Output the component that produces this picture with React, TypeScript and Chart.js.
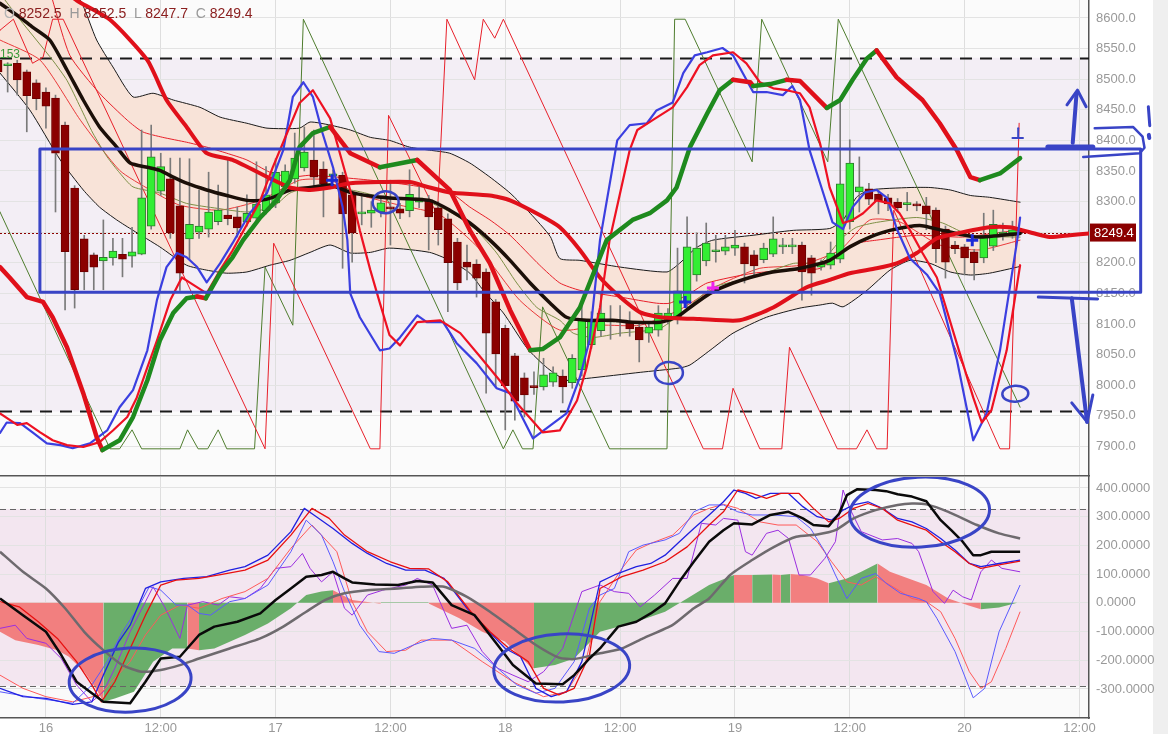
import React, { useEffect, useRef } from 'react';
import { Chart, registerables } from 'chart.js';

Chart.register(...registerables);

const FONT = "'Liberation Sans', Arial, sans-serif";

// ---------- time axis (hours from the 16th 00:00) ----------
const timeMin = -4.8;
const timeMax = 109.0;
const timeTicks = [0, 12, 24, 36, 48, 60, 72, 84, 96, 108];
const firstDay = 16;

// ---------- price panel ----------
const priceMin = 7851.6;
const priceMax = 8629.4;
const priceTicks = [7900, 7950, 8000, 8050, 8100, 8150, 8200, 8250, 8300, 8350, 8400, 8450, 8500, 8550, 8600];
const priceZoneTop = 8535;
const priceZoneBottom = 7957;
const lastPrice = 8249.4;

const candleStartHour = -5;
const candleOpen = [
  8531, 8522, 8526, 8512, 8494,
  8479, 8469, 8425, 8322, 8239, 8213, 8203, 8208, 8214, 8211,
  8214, 8260, 8317, 8337, 8293, 8239, 8250, 8255, 8267, 8278,
  8275, 8267, 8273, 8285, 8298, 8324, 8337, 8355, 8368, 8353,
  8342, 8343, 8311, 8280, 8281, 8283, 8291, 8288, 8285, 8299,
  8303, 8290, 8272, 8234, 8201, 8198, 8185, 8136, 8093, 8048,
  8012, 7998, 7997, 8005, 8015, 8004, 8025, 8066, 8089, 8103,
  8103, 8103, 8095, 8085, 8090, 8105, 8111, 8134, 8180, 8203,
  8218, 8219, 8224, 8226, 8213, 8205, 8214, 8226, 8226, 8229,
  8208, 8193, 8196, 8206, 8267, 8316, 8321, 8312, 8306, 8299,
  8295, 8296, 8293, 8286, 8255, 8229, 8226, 8218, 8208, 8227,
  8247, 8249, 8252.5,
];
const candleHigh = [
  8540, 8527, 8531, 8515, 8499,
  8486, 8474, 8430, 8326, 8245, 8216, 8270, 8240, 8240, 8258,
  8417, 8425, 8379, 8371, 8371, 8370, 8319, 8348, 8327, 8371,
  8291, 8311, 8365, 8357, 8370, 8360, 8412, 8422, 8417, 8365,
  8352, 8348, 8318, 8311, 8300, 8305, 8335, 8297, 8352, 8327,
  8310, 8300, 8280, 8240, 8229, 8205, 8190, 8140, 8098, 8052,
  8020, 8022, 8044, 8030, 8025, 8050, 8140, 8120, 8150, 8130,
  8130, 8120, 8100, 8100, 8130, 8125, 8224, 8275, 8249, 8265,
  8245, 8245, 8253, 8232, 8220, 8232, 8275, 8240, 8240, 8234,
  8212, 8205, 8234, 8466, 8401, 8373, 8330, 8318, 8312, 8305,
  8315, 8300, 8307, 8290, 8260, 8235, 8230, 8222, 8281, 8286,
  8265, 8268, 8252.5,
];
const candleLow = [
  8490, 8479, 8474, 8414, 8450,
  8420, 8283, 8123, 8126, 8156, 8156, 8156, 8196, 8177, 8193,
  8213, 8255, 8310, 8240, 8155, 8205, 8240, 8242, 8262, 8262,
  8242, 8260, 8268, 8280, 8290, 8315, 8330, 8350, 8320, 8275,
  8338, 8191, 8201, 8262, 8258, 8275, 8229, 8272, 8275, 8290,
  8221, 8229, 8120, 8156, 8172, 8144, 7987, 7997, 7927, 7943,
  7948, 7985, 7992, 7998, 7971, 7995, 8015, 8060, 8080, 8075,
  8080, 8080, 8038, 8070, 8080, 8100, 8100, 8125, 8170, 8195,
  8201, 8213, 8212, 8167, 8180, 8200, 8210, 8215, 8215, 8139,
  8147, 8188, 8190, 8200, 8255, 8283, 8295, 8280, 8285, 8283,
  8285, 8285, 8254, 8200, 8175, 8215, 8180, 8172, 8200, 8220,
  8237, 8240, 8247.7,
];
const candleClose = [
  8512, 8524, 8499, 8473, 8468,
  8456, 8379, 8218, 8156, 8185, 8193, 8209, 8219, 8206, 8218,
  8306, 8373, 8357, 8249, 8183, 8263, 8260, 8283, 8286, 8272,
  8257, 8281, 8296, 8311, 8348, 8350, 8371, 8381, 8340, 8329,
  8345, 8280, 8249, 8281, 8286, 8298, 8288, 8281, 8312, 8306,
  8275, 8254, 8200, 8167, 8193, 8175, 8085, 8051, 7999, 7974,
  7984, 7996, 8017, 8020, 7997, 8044, 8107, 8108, 8118, 8104,
  8104, 8092, 8074, 8095, 8118, 8118, 8154, 8226, 8224, 8232,
  8221, 8226, 8229, 8198, 8195, 8224, 8239, 8228, 8228, 8185,
  8183, 8198, 8216, 8329, 8363, 8324, 8304, 8301, 8296, 8290,
  8297, 8293, 8280, 8223, 8201, 8223, 8208, 8200, 8245, 8263,
  8250, 8254, 8249.4,
];

const bbUpper = [[-4.8,8760],[1.5,8662],[3.6,8629],[5.3,8564],[7,8520],[9.1,8471],[11.2,8477],[13.3,8466],[16.1,8454],[18.2,8438],[21,8428],[23.1,8420],[26.5,8420],[27.6,8430],[29.7,8425],[31.8,8417],[33.9,8405],[35.9,8400],[38,8389],[40.1,8384],[42.2,8379],[44.3,8363],[46.4,8340],[48.5,8314],[50.6,8281],[52.7,8243],[53.7,8207],[55.8,8204],[60,8193],[64.9,8185],[66.2,8199],[68,8225],[69.7,8237],[73.9,8245],[78.1,8253],[81.9,8256],[83.3,8270],[84.7,8307],[86.1,8319],[90.3,8323],[92.4,8323],[94.5,8319],[96.6,8310],[98.6,8307],[101.8,8299]];
const bbLower = [[-4.8,8510],[-1.7,8450],[1.5,8368],[3.9,8319],[5.6,8291],[7.4,8270],[9.1,8253],[11.9,8226],[14.7,8196],[16.8,8188],[18.9,8183],[21,8185],[23.4,8196],[25.5,8204],[27.6,8217],[29.7,8229],[31.8,8216],[33.9,8217],[35.9,8224],[40.1,8217],[42.2,8204],[44.3,8183],[45.7,8155],[47.8,8118],[50.3,8060],[52.4,8028],[54.4,8008],[56.5,8011],[62.1,8021],[66.2,8028],[67.3,8033],[69.4,8057],[71.8,8085],[75.3,8111],[78.8,8126],[80.9,8131],[82.2,8134],[83.3,8128],[85.8,8155],[88.2,8188],[90.3,8204],[92.4,8199],[94.5,8185],[96.6,8180],[98.6,8183],[101.8,8194]];
const bbMiddle = [[-4.8,8624],[-2.7,8601],[-1.4,8585],[0.4,8564],[2.2,8515],[3.9,8466],[5.6,8422],[7.4,8389],[8.8,8363],[10.6,8356],[11.9,8351],[13.3,8340],[14.7,8330],[16.8,8319],[18.9,8310],[21,8302],[22.4,8302],[23.7,8307],[25.5,8319],[27.6,8323],[29.7,8327],[31.8,8315],[33.9,8309],[35.9,8306],[40.1,8302],[42.2,8286],[44.3,8265],[46.4,8237],[48.5,8204],[50.6,8167],[52.7,8134],[54.4,8111],[56.5,8106],[59.2,8106],[61.3,8103],[64.2,8103],[65.9,8111],[67.3,8127],[69.4,8150],[71.8,8167],[75.3,8183],[78.8,8191],[81.9,8204],[84,8226],[86.1,8242],[88.2,8253],[91.3,8261],[93.7,8253],[97.3,8242],[101.8,8248]];
const emaSlow = [[0.4,8645],[2.5,8539],[5.6,8477],[8.5,8433],[10.1,8414],[12.2,8405],[14.7,8397],[16.8,8389],[18.9,8379],[21,8368],[23.4,8348],[25.5,8340],[27.6,8343],[30.4,8340],[33.9,8335],[38,8327],[42.2,8315],[44.3,8291],[46.4,8270],[48.5,8245],[51.6,8196],[53.7,8167],[55.8,8155],[60,8144],[63.8,8134],[65.2,8134],[67.3,8150],[69.1,8167],[73.9,8183],[78.1,8188],[80.9,8191],[83.3,8221],[84.7,8232],[86.8,8237],[91,8245],[95.8,8242],[99.9,8250],[101.8,8253]];
const emaFast = [[-4.8,8564],[-0.6,8531],[3.6,8433],[7.7,8351],[10.9,8319],[14,8294],[18.2,8286],[22.4,8302],[26.5,8335],[29.7,8335],[32.8,8311],[37,8294],[41.2,8278],[45.4,8221],[49.5,8139],[53.7,8090],[57.9,8098],[62.1,8098],[66.2,8123],[70.4,8164],[74.6,8191],[78.8,8196],[83,8221],[86.1,8270],[89.2,8267],[93.4,8229],[97.6,8221],[101.8,8237]];
const maOlive = [[-4.8,8640],[-2.7,8597],[0.7,8531],[2.2,8498],[3.6,8454],[4.9,8412],[6.4,8373],[7.7,8347],[9.1,8324],[11.9,8314],[14.7,8297],[17.9,8289],[21,8283],[23.7,8291],[25.5,8314],[27.6,8323],[30.4,8323],[33.1,8315],[35.2,8307],[39.4,8302],[41.5,8289],[43.6,8270],[45,8253],[47.1,8216],[49.2,8167],[51.3,8127],[53.7,8106],[55.1,8085],[57.2,8078],[60,8085],[64.2,8093],[67,8126],[69.7,8160],[73.9,8176],[78.1,8199],[80.9,8201],[83.3,8242],[84.7,8258],[86.8,8266],[91,8274],[93.7,8265],[96.6,8245],[101.8,8242]];
const slowRedLine = [[-1,8680],[3.2,8629],[6.7,8597],[10.6,8531],[12.6,8466],[14.7,8422],[16.8,8379],[19.5,8368],[23.4,8338],[25.5,8323],[27.6,8319],[29.7,8323],[31.8,8330],[38,8332],[40.1,8323],[42.2,8315],[46.4,8310],[48.5,8302],[51.6,8278],[53.7,8258],[55.8,8221],[57.9,8176],[60,8144],[62.1,8119],[64.2,8111],[68.3,8108],[72.5,8106],[76,8127],[79.5,8160],[81.9,8172],[84,8183],[86.8,8191],[88.9,8199],[91,8216],[93.1,8240],[95.2,8248],[98.6,8258],[100.7,8258],[102.8,8250],[104.9,8242],[107,8245],[109.1,8248]];
const trendLine = [[-4.8,8193],[-3.8,8176],[-2,8144],[-0.3,8136],[0.7,8111],[2.2,8062],[3.9,7987],[5.3,7915],[5.9,7894],[7.7,7910],[9.1,7948],[10.6,8008],[11.9,8073],[13.3,8118],[14.7,8142],[15.8,8145],[16.7,8142],[18.2,8183],[19.5,8209],[20.6,8237],[22.4,8274],[24.1,8302],[25.5,8335],[26.5,8389],[27.9,8412],[29.7,8422],[31.8,8379],[34.9,8356],[38.8,8368],[42.2,8319],[44.3,8253],[46.4,8199],[48.5,8123],[50.6,8057],[51.9,8059],[53.7,8078],[55.8,8127],[58.6,8237],[61.3,8270],[63.1,8281],[64.9,8302],[65.9,8323],[67.3,8389],[69.1,8444],[70.4,8482],[71.8,8499],[73.6,8495],[73.9,8489],[75.7,8492],[77.4,8499],[78.8,8497],[81.6,8453],[83,8466],[84.3,8499],[85.8,8534],[86.8,8547],[88.9,8503],[91.6,8466],[93.4,8428],[95.2,8384],[96.6,8340],[97.6,8335],[99.7,8346],[101.8,8371]];
const stochK = [[-4.8,7922],[-4.1,7939],[-2.7,7938],[-1.4,7923],[0.1,7905],[1.5,7902],[2.8,7897],[4.6,7905],[6.4,7926],[7.7,7964],[9.1,7992],[10.6,8057],[11.6,8139],[12.6,8193],[13.7,8216],[14.7,8209],[15.8,8193],[16.8,8168],[18.2,8199],[19.5,8232],[21.3,8281],[23.1,8314],[24.8,8384],[25.8,8471],[26.9,8495],[27.9,8471],[28.9,8412],[30,8356],[31,8291],[31.5,8237],[31.8,8150],[32.8,8111],[34.9,8057],[35.9,8060],[37,8078],[38.8,8114],[39.8,8103],[41.5,8103],[42.9,8069],[45,8036],[47.1,7995],[48.5,7987],[50.9,7913],[54.4,7954],[55.8,8013],[56.8,8073],[57.9,8237],[59.7,8400],[61,8425],[62.8,8428],[63.8,8449],[65.5,8462],[66.6,8510],[67.8,8539],[69.1,8544],[70.7,8551],[71.8,8539],[73.9,8479],[75.3,8479],[77,8474],[78,8489],[78.8,8466],[79.8,8384],[80.9,8330],[82.2,8266],[83.3,8255],[84.3,8291],[85.6,8315],[86.8,8319],[87.9,8306],[88.9,8256],[90.3,8207],[92.1,8180],[93.4,8150],[95.2,8041],[96.9,7910],[98.3,7954],[99.7,8057],[101.5,8237],[101.8,8274]];
const stochD = [[-4.8,7954],[-3,7935],[-2,7938],[-0.6,7923],[0.7,7910],[2.2,7902],[3.9,7899],[5.6,7907],[7,7926],[8.5,7948],[9.5,7980],[10.6,8029],[11.6,8073],[13,8139],[14.2,8176],[15,8168],[16.8,8150],[18.2,8188],[19.5,8220],[22.4,8302],[23.7,8356],[25.2,8412],[26.5,8461],[27.9,8482],[29.7,8436],[31,8363],[32,8307],[32.8,8253],[33.9,8188],[34.9,8134],[35.9,8082],[37,8065],[38.8,8103],[41.2,8106],[43.3,8085],[45.4,8046],[47.4,8008],[49.2,7971],[51.9,7923],[53.7,7926],[55.5,7975],[56.5,8029],[57.9,8127],[58.9,8237],[61,8384],[61.8,8417],[63.4,8433],[65.5,8454],[67,8487],[68.3,8523],[69.7,8539],[71.8,8544],[73.2,8526],[74.6,8495],[76,8485],[77.4,8482],[78.8,8477],[79.8,8454],[80.9,8395],[81.9,8323],[83.3,8265],[84.3,8270],[85.4,8281],[86.8,8302],[88.2,8297],[89.2,8281],[90.3,8253],[91.6,8216],[93.1,8176],[95.5,8052],[96.9,7980],[97.8,7939],[98.8,7959],[100.4,8057],[101.8,8196]];
const sawRed = [[-4.8,8580],[-3.4,8598],[-1.4,8526],[-0.3,8536],[0.7,8598],[1.8,8598],[22.9,7896],[23.8,8232],[33.9,7896],[34.9,7896],[35.8,8441],[40.9,8278],[41.9,8598],[44.8,8499],[45.7,8598],[46.9,8567],[47.8,8598],[68.7,7896],[70.7,7896],[71.8,7995],[74.6,7896],[76.9,7896],[77.7,8062],[82.7,7896],[84.7,7896],[85.8,7927],[86.8,7896],[87.9,7896],[88.6,8286],[99.7,7896],[100.7,7896],[101.7,8428]];
const sawOlive = [[-4.8,8283],[6.7,7896],[7.7,7896],[9,7927],[10,7896],[14,7896],[14.8,7927],[15.9,7896],[16.9,7896],[18,7927],[18.9,7896],[21.8,7896],[22.9,8193],[25.8,8098],[26.9,8598],[47.8,7896],[48.8,7927],[49.8,7896],[50.9,7896],[51.9,8128],[58.9,7896],[64.9,7896],[65.7,8598],[66.8,8598],[73.8,8365],[74.8,8598],[81.7,8365],[82.8,8598],[101.8,7964]];
const blueMarkers = [[29.9,8335],[96.8,8237],[66.8,8136]];
const pinkMarkers = [[69.7,8159]];

// ---------- oscillator panel ----------
const oscMin = -401.3;
const oscMax = 438.3;
const oscTicks = [-300, -200, -100, 0, 100, 200, 300, 400];
const oscZoneTop = 327;
const oscZoneBottom = -289;

const histRed = [[-4.8,-101],[-3.2,-130],[-0.8,-147],[1.2,-165],[2.4,-188],[4.0,-240],[5.2,-298],[6.0,-345],null,[14.8,-159],[16,-165],null,[30,44],[32,10],[34.8,-2],[35,-2],null,[40,-2],[43.2,-54],[45.6,-101],[48,-136],[50.8,-228],[51,-228],null,[71.9,97],[73.8,97],null,[75.9,99],[76.8,97],null,[77.8,100],[79.1,97],[80.6,85],[81.8,68],null,[86.9,137],[88.2,108],[92,62],[94.3,15],[96.5,-10],[97.7,-22]];
const histGreen = [[6.0,-345],[7.2,-333],[9.2,-310],[11.2,-205],[13.2,-159],[14.8,-159],null,[16,-165],[17.6,-159],[20.8,-112],[23.2,-72],[25.6,-19],[27.2,27],[28.8,39],[30,44],null,[35,2],[40,2],null,[51,-228],[53.2,-217],[55.2,-194],[57.9,-101],[61.7,-66],[64.7,-31],[67,15],[69.3,62],[71.9,97],null,[73.8,97],[75.9,99],null,[76.8,97],[77.8,100],null,[81.8,68],[83.7,85],[85.2,108],[86.9,137],null,[97.7,-22],[99.6,-16],[101.5,0]];
const oscBlack = [[-4.8,15],[-2.4,-43],[0,-101],[1.6,-182],[3.2,-275],[6,-345],[8.8,-350],[10.4,-275],[12,-194],[14,-188],[16,-112],[17.6,-83],[20,-66],[22.4,-37],[24,10],[25.6,50],[27.2,91],[28.8,97],[30,108],[31.2,85],[32,71],[34.4,64],[36.8,62],[38.8,76],[40.4,71],[42.4,-8],[44.8,-43],[47.2,-147],[48.8,-217],[51.2,-281],[54,-284],[55.2,-252],[56.8,-194],[57.9,-159],[59.8,-83],[61.7,-66],[63.2,-37],[64.7,-2],[66.2,74],[67.7,143],[69.3,213],[70.8,253],[71.9,277],[73.8,273],[75.7,306],[77.6,317],[79.1,294],[80.2,271],[81.8,267],[82.9,311],[83.7,375],[84.8,396],[86.7,393],[87.8,389],[89,378],[90.5,370],[92,354],[93.5,288],[94.6,253],[95.8,213],[96.9,166],[97.7,166],[98.8,178],[101.8,178]];
const oscGray = [[-4.8,178],[-2.4,108],[0,50],[2,-19],[4,-101],[6,-165],[8,-217],[10,-240],[12,-234],[14,-217],[16,-194],[19.2,-159],[22.4,-124],[24.8,-83],[27.2,-31],[29.2,10],[31.2,33],[33.6,44],[36.8,50],[39.2,56],[41.6,56],[44,21],[46.4,-31],[48.8,-89],[51.2,-147],[53.6,-191],[55.2,-196],[57.9,-176],[60.2,-159],[62.4,-124],[65.5,-77],[67.7,-19],[69.3,15],[71.5,97],[73.8,149],[76.1,195],[78.4,230],[80.6,238],[82.5,253],[84.4,294],[86.7,323],[89,341],[90.5,346],[92,343],[94.3,317],[97.3,271],[99.6,242],[101.8,224]];
const oscRed = [[-4.8,4],[-2.8,-14],[-0.8,-66],[1.2,-124],[3.2,-205],[4.8,-286],[5.8,-345],[7.2,-275],[8.8,-159],[10.4,-43],[12,62],[13.6,79],[16,85],[18.4,99],[20.8,114],[23.2,149],[25.6,236],[27.8,329],[29.6,294],[31.2,236],[33.6,178],[36,143],[38,120],[40,118],[42,73],[44.4,-31],[46.4,-101],[48.4,-159],[50.4,-205],[52,-298],[53.6,-321],[55.2,-298],[56.8,-182],[57.9,50],[60.2,91],[62.4,114],[64.7,143],[67,195],[69.3,271],[70.8,317],[72.3,393],[73.8,381],[75.3,364],[76.8,381],[78.7,381],[80.2,329],[81.8,282],[82.9,294],[84.4,329],[85.9,346],[87.4,329],[89,288],[90.5,271],[92,253],[93.5,213],[95,178],[96.5,137],[97.7,120],[99.6,132],[101.8,145]];
const oscBlue = [[-4.8,-298],[-2.4,-327],[0,-333],[2.8,-354],[4.8,-345],[6,-252],[7.6,-136],[8.8,-78],[10.4,50],[12,73],[14.4,85],[16.8,91],[19.2,114],[20.8,126],[23.2,166],[25.6,248],[27,329],[28,306],[30,259],[32,207],[33.6,172],[35.6,137],[37.6,114],[39.6,114],[41.6,85],[44,-19],[46,-89],[48,-159],[49.6,-188],[51.2,-298],[52.8,-327],[54.4,-310],[56,-205],[57.9,73],[59.4,97],[61.7,126],[63.2,137],[64.7,166],[66.2,213],[67.7,259],[69.3,306],[70.8,352],[71.9,393],[73.1,381],[74.2,364],[75.7,381],[77.6,381],[79.1,335],[80.6,300],[82.1,288],[83.3,323],[84.4,341],[85.9,352],[87.4,329],[89,294],[90.5,282],[92,259],[93.5,224],[95,184],[96.5,137],[97.7,126],[99.6,137],[101.8,149]];
const oscLightBlue = [[-4.8,-310],[-0.8,-333],[2.8,-350],[4.8,-286],[6.4,-205],[8,-101],[9.6,-19],[10.8,56],[12,44],[13.6,-8],[14.8,-8],[16,-37],[17.2,-43],[19.2,4],[20.8,15],[23.2,62],[25.6,178],[27.2,288],[28.8,236],[30,143],[31.2,39],[32.8,-78],[34.8,-170],[36.4,-176],[38.4,-147],[40.4,-124],[42.4,-130],[44.8,-159],[47.2,-228],[49.2,-286],[51.2,-315],[53.2,-298],[55.2,-205],[56.8,-19],[57.9,27],[59.4,50],[60.9,178],[62.4,201],[64.7,219],[66.2,242],[67.7,317],[69.3,341],[70.8,341],[72.3,317],[73.8,306],[76.1,306],[78.4,300],[79.9,259],[81.4,178],[82.5,97],[83.7,15],[85.2,85],[86.7,102],[87.8,68],[89.3,33],[91.2,15],[92,4],[93.1,-54],[95,-170],[96.9,-331],[98.1,-298],[99.6,-101],[101.8,62]];
const oscLightRed = [[-4.8,-252],[-2.4,-298],[0,-327],[2.8,-345],[5.6,-321],[7.2,-263],[8.8,-205],[10.4,-112],[12,-43],[14,-8],[16,-19],[18.4,15],[20.8,39],[23.2,85],[25.6,190],[27.8,271],[30.4,178],[32,4],[33.6,-101],[35.6,-170],[37.6,-165],[39.2,-130],[42.4,-130],[45.6,-205],[48.8,-275],[52,-327],[54.4,-310],[56.4,-205],[57.9,4],[60.2,120],[61.7,184],[63.2,207],[65.5,236],[67.7,306],[69.3,329],[70.8,343],[72.3,329],[74.6,282],[76.5,271],[78.4,271],[80.6,213],[82.1,143],[83.7,73],[85.2,62],[86.7,91],[88.2,62],[90.5,15],[92,4],[93.5,-31],[95,-124],[96.5,-240],[97.7,-298],[98.8,-275],[100.3,-159],[101.8,-31]];
const oscPurple = [[-4.8,-89],[-3.2,-78],[-2,-124],[0,-141],[1.6,-194],[3.2,-286],[4.8,-345],[6,-310],[7.2,-228],[8.8,-101],[10.4,4],[11.2,56],[12.4,-14],[14,-124],[14.8,-8],[16.4,4],[18,-8],[19.2,21],[20.8,15],[22.4,50],[24,120],[25.6,126],[26.8,172],[27.6,120],[28.8,73],[30,108],[31.2,-19],[32,-43],[33.6,27],[35.2,44],[37.6,62],[38.8,85],[40.4,62],[42.4,-89],[44,-78],[45.6,-170],[47.2,-228],[48.8,-252],[50.4,-275],[52,-240],[54,-159],[56,39],[57.9,62],[59.4,39],[60.9,33],[62.1,-14],[63.6,27],[65.5,85],[67,85],[68.5,277],[70,271],[70.8,294],[72.3,288],[73.1,178],[73.8,166],[75.3,242],[76.5,253],[77.6,224],[78.7,97],[79.9,97],[81.4,155],[82.5,213],[83.3,393],[84,329],[85.2,248],[87.4,219],[89,224],[90.5,207],[91.2,178],[92.7,39],[93.9,-2],[94.8,44],[95.8,21],[96.7,10],[97.7,108],[98.8,149],[99.9,120],[101.8,108]];

// ---------- hand-drawn annotations (in data units) ----------
const topStrokes = [
  { pts: [[-0.63,8386],[114.4,8386],[114.4,8152],[-0.63,8152],[-0.63,8386]], w: 3 },
  { pts: [[104.7,8389],[109.4,8389]], w: 5 },
  { pts: [[109.6,8420],[113.6,8422],[114.6,8406],[114.8,8388],[114.3,8379],[108.4,8373]], w: 2.5 },
  { pts: [[115.2,8455],[115.35,8424]], w: 3 },
  { pts: [[115.25,8409],[115.3,8404]], w: 4 },
  { pts: [[107.3,8396],[107.7,8477]], w: 4 },
  { pts: [[106.7,8458],[107.8,8482],[108.7,8455]], w: 3 },
  { pts: [[101.0,8404],[102.1,8404]], w: 2 },
  { pts: [[101.6,8404],[101.6,8420]], w: 2 },
  { pts: [[103.7,8144],[109.9,8141]], w: 3 },
  { pts: [[107.2,8142],[108.8,7940]], w: 4 },
  { pts: [[107.2,7971],[108.8,7940],[109.4,7984]], w: 3 },
];
const topRings = [[35.5,8299,13,11],[65.1,8020,14,11],[101.3,7986,13,8]];
const bottomRings = [[8.8,-269,61,32],[53.9,-227,68,34],[91.3,316,70,35]];
const penColor = '#3944c6';

const pts = (arr) => {
  const out = [];
  let lastX = 0;
  for (const p of arr) {
    if (p) { out.push({ x: p[0], y: p[1] }); lastX = p[0]; }
    else out.push({ x: lastX, y: null });
  }
  return out;
};

const xTickLabel = (v) => {
  const n = Number(v);
  return n % 24 === 0 ? String(firstDay + n / 24) : '12:00';
};

function drawRings(chart, rings, width) {
  const { ctx, scales } = chart;
  ctx.save();
  ctx.strokeStyle = penColor;
  ctx.lineWidth = width;
  for (const r of rings) {
    const cx = scales.x.getPixelForValue(r[0]);
    const cy = scales.y.getPixelForValue(r[1]);
    ctx.beginPath();
    ctx.ellipse(cx, cy, r[2], r[3], -0.05, 0, Math.PI * 2);
    ctx.stroke();
  }
  ctx.restore();
}

function zonePlugin(zoneTop, zoneBottom, zoneColor, outerColor, dashColor, dashWidth, dash) {
  return {
    id: 'zones',
    beforeDraw(chart) {
      const { ctx, chartArea: a, scales } = chart;
      ctx.save();
      ctx.fillStyle = '#ffffff';
      ctx.fillRect(0, 0, chart.width, chart.height);
      ctx.fillStyle = '#efefef';
      ctx.fillRect(chart.width - 15, 0, 15, chart.height);
      ctx.fillStyle = outerColor;
      ctx.fillRect(a.left, a.top, a.right - a.left, a.bottom - a.top);
      const y1 = scales.y.getPixelForValue(zoneTop);
      const y2 = scales.y.getPixelForValue(zoneBottom);
      ctx.fillStyle = zoneColor;
      ctx.fillRect(a.left, y1, a.right - a.left, y2 - y1);
      ctx.restore();
    },
    beforeDatasetsDraw(chart) {
      const { ctx, chartArea: a, scales } = chart;
      ctx.save();
      ctx.strokeStyle = dashColor;
      ctx.lineWidth = dashWidth;
      ctx.setLineDash(dash);
      for (const v of [zoneTop, zoneBottom]) {
        const y = Math.round(scales.y.getPixelForValue(v)) + 0.5;
        ctx.beginPath();
        ctx.moveTo(a.left, y);
        ctx.lineTo(a.right, y);
        ctx.stroke();
      }
      ctx.restore();
    },
  };
}

const baseFont = { family: FONT, size: 13 };

function makeScales(yMin, yMax, yTicks, decimals, showX) {
  return {
    x: {
      type: 'linear',
      min: timeMin,
      max: timeMax,
      offset: false,
      afterBuildTicks: (s) => { s.ticks = timeTicks.map((v) => ({ value: v })); },
      afterFit: (s) => { s.height = showX ? 16 : 0; s.paddingLeft = 0; s.paddingRight = 0; s.paddingTop = 0; s.paddingBottom = 0; },
      grid: { color: '#dedede', drawTicks: false, offset: false },
      border: { display: true, color: '#555', width: 1.5 },
      ticks: { display: showX, color: '#999', font: baseFont, padding: 3, autoSkip: false, maxRotation: 0, callback: xTickLabel },
    },
    y: {
      type: 'linear',
      position: 'right',
      min: yMin,
      max: yMax,
      afterBuildTicks: (s) => { s.ticks = yTicks.map((v) => ({ value: v })); },
      afterFit: (s) => { s.width = 79; s.paddingTop = 0; s.paddingBottom = 0; s.paddingLeft = 0; s.paddingRight = 0; },
      grid: { color: '#e3e3e3', drawTicks: false },
      border: { display: true, color: '#555', width: 1.5 },
      ticks: { color: '#999', font: baseFont, padding: 7, autoSkip: false, callback: (v) => Number(v).toFixed(decimals) },
    },
  };
}

const lineDs = (data, color, width, order, extra = {}) => ({
  type: 'line',
  data: pts(data),
  borderColor: color,
  borderWidth: width,
  pointRadius: 0,
  fill: false,
  tension: 0,
  order,
  ...extra,
});

export default function App() {
  const topRef = useRef(null);
  const botRef = useRef(null);

  useEffect(() => {
    document.body.style.margin = '0';
    document.body.style.background = '#ffffff';

    const hours = candleOpen.map((_, i) => candleStartHour + i);
    const isUp = candleOpen.map((o, i) => candleClose[i] >= o);

    const topChart = new Chart(topRef.current, {
      type: 'line',
      data: {
        datasets: [
          lineDs(bbUpper, '#1a1a1a', 1, 9, { fill: '+1', backgroundColor: '#f8e3d8', tension: 0.2 }),
          lineDs(bbLower, '#1a1a1a', 1, 9, { tension: 0.2 }),
          lineDs(sawRed, '#e8202a', 1, 8),
          lineDs(sawOlive, '#4f7d2e', 1, 8),
          lineDs(maOlive, '#7d8f45', 1, 7, { tension: 0.2 }),
          lineDs(emaSlow, '#e8202a', 1, 7, { tension: 0.2 }),
          lineDs(emaFast, '#ea3a3a', 1, 7, { tension: 0.2 }),
          {
            type: 'bar',
            data: hours.map((h, i) => ({ x: h, y: [candleLow[i], candleHigh[i]] })),
            backgroundColor: '#7a7a7a',
            barThickness: 1,
            grouped: false,
            borderWidth: 0,
            order: 6,
          },
          {
            type: 'bar',
            data: hours.map((h, i) => ({ x: h, y: [candleOpen[i], candleClose[i]] })),
            backgroundColor: isUp.map((u) => (u ? '#33ee33' : '#8b0000')),
            borderColor: isUp.map((u) => (u ? '#2d7a2d' : '#6e0000')),
            borderWidth: 1,
            borderSkipped: false,
            barThickness: 8,
            minBarLength: 2,
            grouped: false,
            order: 5,
          },
          lineDs(bbMiddle, '#1b0f08', 3.5, 4, { tension: 0.2 }),
          lineDs(slowRedLine, '#e0101a', 4, 3, { tension: 0.2 }),
          lineDs(stochD, '#ee1122', 2.2, 2),
          lineDs(stochK, '#3b3fe0', 2.2, 2),
          lineDs(trendLine, '#e0101a', 4.5, 1, {
            segment: { borderColor: (c) => (c.p1.parsed.y >= c.p0.parsed.y ? '#1e8a1e' : '#e0101a') },
          }),
          lineDs(blueMarkers, '#1c2ad8', 0, 0, { showLine: false, pointStyle: 'cross', pointRadius: 6, pointBorderWidth: 3, pointBorderColor: '#1c2ad8' }),
          lineDs(pinkMarkers, '#ee22ee', 0, 0, { showLine: false, pointStyle: 'cross', pointRadius: 6, pointBorderWidth: 3, pointBorderColor: '#ee22ee' }),
        ],
      },
      options: {
        responsive: false,
        animation: false,
        devicePixelRatio: 1,
        layout: { autoPadding: false, padding: { left: 0, right: 0, top: 0, bottom: 1 } },
        elements: { line: { borderJoinStyle: 'round', borderCapStyle: 'round' } },
        plugins: { legend: { display: false }, tooltip: { enabled: false }, filler: { drawTime: 'beforeDatasetsDraw' } },
        scales: makeScales(priceMin, priceMax, priceTicks, 1, false),
      },
      plugins: [
        zonePlugin(priceZoneTop, priceZoneBottom, '#f3eef5', '#fbfbfb', '#1a1a1a', 2, [12, 8]),
        {
          id: 'lastPrice',
          beforeDatasetsDraw(chart) {
            const { ctx, chartArea: a, scales } = chart;
            const y = Math.round(scales.y.getPixelForValue(lastPrice)) + 0.5;
            ctx.save();
            ctx.strokeStyle = '#8b0000';
            ctx.lineWidth = 1;
            ctx.setLineDash([2, 2]);
            ctx.beginPath();
            ctx.moveTo(a.left, y);
            ctx.lineTo(a.right, y);
            ctx.stroke();
            ctx.restore();
          },
          afterDraw(chart) {
            const { ctx, chartArea: a, scales } = chart;
            const y = scales.y.getPixelForValue(lastPrice);
            ctx.save();
            ctx.fillStyle = '#8b0000';
            ctx.fillRect(a.right + 1, y - 9, 46, 18);
            ctx.fillStyle = '#ffffff';
            ctx.font = `13px ${FONT}`;
            ctx.textBaseline = 'middle';
            ctx.textAlign = 'left';
            ctx.fillText(lastPrice.toFixed(1), a.right + 5, y + 1);
            ctx.restore();
          },
        },
        {
          id: 'pen',
          afterDraw(chart) {
            const { ctx, scales } = chart;
            ctx.save();
            ctx.strokeStyle = penColor;
            ctx.lineCap = 'round';
            ctx.lineJoin = 'round';
            for (const s of topStrokes) {
              ctx.lineWidth = s.w;
              ctx.beginPath();
              s.pts.forEach((p, i) => {
                const x = scales.x.getPixelForValue(p[0]);
                const y = scales.y.getPixelForValue(p[1]);
                if (i === 0) ctx.moveTo(x, y); else ctx.lineTo(x, y);
              });
              ctx.stroke();
            }
            ctx.restore();
            drawRings(chart, topRings, 2.5);
          },
        },
      ],
    });

    const botChart = new Chart(botRef.current, {
      type: 'line',
      data: {
        datasets: [
          lineDs(histRed, 'rgba(0,0,0,0)', 0, 11, { fill: 'origin', backgroundColor: '#f27f7f' }),
          lineDs(histGreen, 'rgba(0,0,0,0)', 0, 11, { fill: 'origin', backgroundColor: '#6aae6a' }),
          lineDs(oscPurple, '#9b2ee0', 1, 7),
          lineDs(oscLightRed, '#ff5a5a', 1, 6),
          lineDs(oscLightBlue, '#5a5aff', 1, 5),
          lineDs(oscBlue, '#2020e0', 1.3, 4),
          lineDs(oscRed, '#e81010', 1.3, 3),
          lineDs(oscGray, '#6e6a6e', 2.5, 2, { tension: 0.2 }),
          lineDs(oscBlack, '#0a0a0a', 2.5, 1),
        ],
      },
      options: {
        responsive: false,
        animation: false,
        devicePixelRatio: 1,
        layout: { autoPadding: false, padding: 0 },
        elements: { line: { borderJoinStyle: 'round' } },
        plugins: { legend: { display: false }, tooltip: { enabled: false }, filler: { drawTime: 'beforeDatasetsDraw' } },
        scales: makeScales(oscMin, oscMax, oscTicks, 4, true),
      },
      plugins: [
        zonePlugin(oscZoneTop, oscZoneBottom, '#f3e6f0', '#fafafa', '#666', 1, [6, 4]),
        {
          id: 'penBottom',
          afterDraw(chart) { drawRings(chart, bottomRings, 3); },
        },
      ],
    });

    return () => {
      topChart.destroy();
      botChart.destroy();
    };
  }, []);

  const ohlcLabels = ['O', 'H', 'L', 'C'];
  const last = candleOpen.length - 1;
  const ohlcValues = [candleOpen[last], candleHigh[last], candleLow[last], candleClose[last]];

  return (
    <div style={{ position: 'relative', width: 1168, height: 734, overflow: 'hidden', background: '#fff' }}>
      <canvas ref={topRef} width={1168} height={477} style={{ position: 'absolute', left: 0, top: 0, width: 1168, height: 477 }} />
      <canvas ref={botRef} width={1168} height={257} style={{ position: 'absolute', left: 0, top: 477, width: 1168, height: 257 }} />
      <div style={{ position: 'absolute', left: 4, top: 5, font: `14px ${FONT}`, whiteSpace: 'pre', pointerEvents: 'none' }}>
        {ohlcLabels.map((l, i) => (
          <span key={l}>
            <span style={{ color: i === 0 ? '#b5b5b5' : '#999' }}>{l} </span>
            <span style={{ color: '#8b2020' }}>{ohlcValues[i].toFixed(1)}</span>
            {i < 3 ? '  ' : ''}
          </span>
        ))}
      </div>
      <div style={{ position: 'absolute', left: 0, top: 47, font: `12px ${FONT}`, color: '#3a9a3a', pointerEvents: 'none' }}>153</div>
    </div>
  );
}
